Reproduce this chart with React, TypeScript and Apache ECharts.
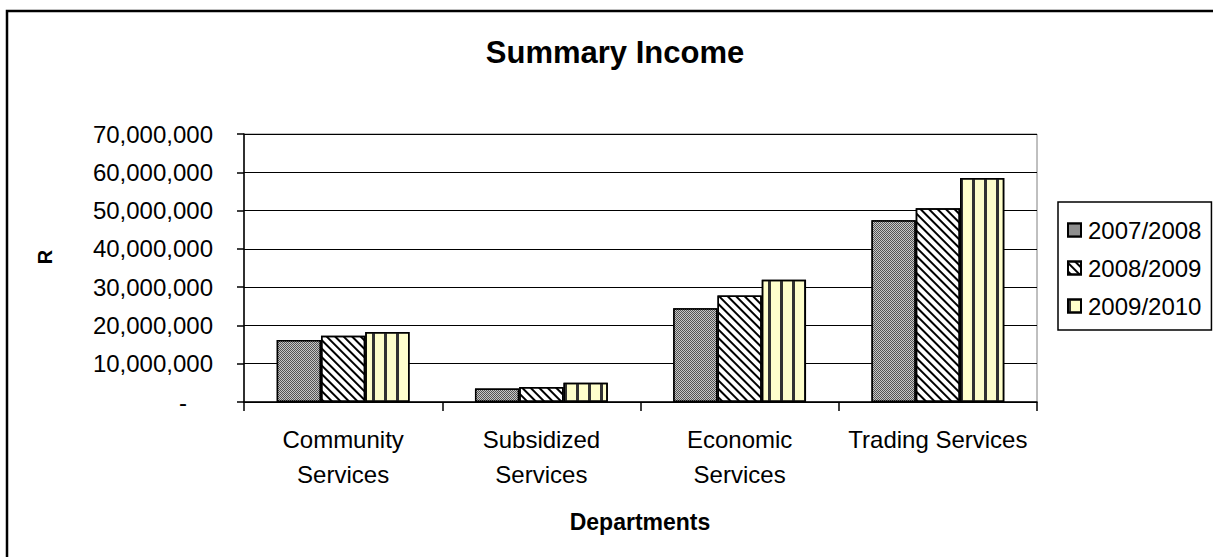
import React, { useEffect, useRef } from "react";
import * as echarts from "echarts";

const categories = ["Community\nServices", "Subsidized\nServices", "Economic\nServices", "Trading Services"];
const seriesNames = ["2007/2008", "2008/2009", "2009/2010"];
const values2007 = [16200000, 3500000, 24500000, 47500000];
const values2008 = [17300000, 3900000, 27800000, 50600000];
const values2009 = [18300000, 5000000, 31900000, 58500000];
const yTicks = { min: 0, max: 70000000, interval: 10000000 };

const FONT = "'Liberation Sans', Arial, sans-serif";

export default function App() {
  const ref = useRef<HTMLDivElement>(null);
  useEffect(() => {
    if (!ref.current) return;
    const chart = echarts.init(ref.current, null, { renderer: "svg" });
    const border = { borderColor: "#000", borderWidth: 1.5 };
    const styles = [
      {
        color: "#555555",
        ...border,
        decal: {
          symbol: "rect",
          symbolSize: 1,
          color: "#c8c8c8",
          dashArrayX: [[1, 1], [0, 1, 1, 0]],
          dashArrayY: [1, 0],
        },
      },
      {
        color: "#ffffff",
        ...border,
        decal: {
          symbol: "rect",
          symbolSize: 1,
          color: "#000000",
          dashArrayX: [1, 0],
          dashArrayY: [2, 4],
          rotation: Math.PI / 4,
        },
      },
      {
        color: "#ffffcc",
        ...border,
        decal: {
          symbol: "rect",
          symbolSize: 1,
          color: "#333333",
          dashArrayX: [3, 9],
          dashArrayY: [1, 0],
        },
      },
    ];
    const data = [values2007, values2008, values2009];
    chart.setOption({
      animation: false,
      backgroundColor: "#ffffff",
      textStyle: { fontFamily: FONT },
      grid: {
        left: 244,
        right: 176,
        top: 134,
        bottom: 155,
        show: true,
        borderColor: "#808080",
        borderWidth: 1,
        backgroundColor: "transparent",
      },
      legend: {
        orient: "vertical",
        left: 1058,
        top: 202,
        padding: [16, 10, 12, 9],
        itemGap: 14,
        itemWidth: 13,
        itemHeight: 13,
        icon: "rect",
        borderColor: "#000",
        borderWidth: 1.5,
        textStyle: { fontSize: 24, color: "#000", fontFamily: FONT, padding: [0, 0, 0, 2] },
        data: seriesNames,
      },
      xAxis: {
        type: "category",
        data: categories,
        axisLine: { lineStyle: { color: "#000", width: 1.5 } },
        axisTick: { show: true, length: 9, lineStyle: { color: "#000", width: 1.5 } },
        axisLabel: { fontSize: 24, color: "#000", lineHeight: 35, margin: 20, fontFamily: FONT, interval: 0 },
      },
      yAxis: {
        type: "value",
        min: yTicks.min,
        max: yTicks.max,
        interval: yTicks.interval,
        axisLine: { show: true, lineStyle: { color: "#000", width: 1.5 } },
        axisTick: { show: true, length: 7, lineStyle: { color: "#000", width: 1.5 } },
        splitLine: { show: true, lineStyle: { color: "#000", width: 1 } },
        axisLabel: {
          fontSize: 24,
          color: "#000",
          margin: 31,
          fontFamily: FONT,
          formatter: (v: number) => (v === 0 ? "{d|-}" : v.toLocaleString("en-US")),
          rich: { d: { fontSize: 24, color: "#000", padding: [0, 26, 0, 0], fontFamily: FONT } },
        },
      },
      series: seriesNames.map((name, i) => ({
        name,
        type: "bar",
        data: data[i],
        barGap: "0%",
        barCategoryGap: "33%",
        itemStyle: styles[i],
        emphasis: { disabled: true },
      })),
      graphic: [
        {
          type: "rect",
          shape: { x: 7, y: 11, width: 1400, height: 800 },
          style: { fill: "none", stroke: "#000", lineWidth: 2.5 },
          silent: true,
        },
        {
          type: "text",
          x: 615,
          y: 52,
          style: {
            text: "Summary Income",
            font: `bold 31px ${FONT}`,
            fill: "#000",
            textAlign: "center",
            textVerticalAlign: "middle",
          },
        },
        {
          type: "text",
          x: 45,
          y: 257,
          rotation: Math.PI / 2,
          style: {
            text: "R",
            font: `bold 20px ${FONT}`,
            fill: "#000",
            textAlign: "center",
            textVerticalAlign: "middle",
          },
        },
        {
          type: "text",
          x: 640,
          y: 522,
          style: {
            text: "Departments",
            font: `bold 23px ${FONT}`,
            fill: "#000",
            textAlign: "center",
            textVerticalAlign: "middle",
          },
        },
      ],
    });
    return () => chart.dispose();
  }, []);
  return (
    <div
      ref={ref}
      style={{ position: "absolute", left: 0, top: 0, width: 1213, height: 557 }}
    />
  );
}
